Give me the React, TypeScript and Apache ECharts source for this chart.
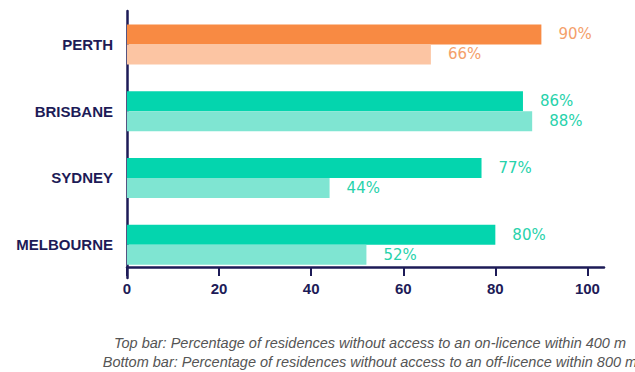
import React, { useEffect, useRef } from "react";
import * as echarts from "echarts";

// Cities, top to bottom
const cities = ["PERTH", "BRISBANE", "SYDNEY", "MELBOURNE"];
// Top bar: % of residences without access to an on-licence within 400 m
const onLicence400 = [90, 86, 77, 80];
// Bottom bar: % of residences without access to an off-licence within 800 m
const offLicence800 = [66, 88, 44, 52];
// Value-axis tick labels
const xTicks = [0, 20, 40, 60, 80, 100];

const captionLines = [
  "Top bar: Percentage of residences without access to an on-licence within 400 m",
  "Bottom bar: Percentage of residences without access to an off-licence within 800 m",
];

const accentCity = "PERTH";
const NAVY = "#1d1b57";
const palette = {
  accent: { top: "#f88a43", bottom: "#fcc5a3", label: "#f4a06a" },
  base: { top: "#04d5ae", bottom: "#7fe5d2", label: "#27d2ab" },
};

const tone = (idx: number) =>
  cities[idx] === accentCity ? palette.accent : palette.base;

const barItems = (values: number[], which: "top" | "bottom") =>
  values.map((v, i) => ({
    value: v,
    itemStyle: { color: tone(i)[which] },
    label: { color: tone(i).label },
  }));

export default function App() {
  const ref = useRef<HTMLDivElement>(null);

  useEffect(() => {
    document.body.style.margin = "0";
    if (!ref.current) return;
    const chart = echarts.init(ref.current, undefined, { renderer: "svg" });

    const valueLabel = {
      show: true,
      position: "right" as const,
      distance: 17,
      fontFamily: "DejaVu Sans",
      fontSize: 15,
      formatter: (p: any) => `${p.value}%`,
    };

    chart.setOption({
      animation: false,
      backgroundColor: "#ffffff",
      grid: { left: 127, top: 11, height: 267, right: 31 },
      xAxis: {
        type: "value",
        min: 0,
        max: 103.6,
        interval: 20,
        offset: -11,
        axisLine: { show: true, lineStyle: { color: NAVY, width: 2.5 } },
        axisTick: {
          show: true,
          customValues: xTicks,
          length: 9,
          lineStyle: { color: NAVY, width: 2 },
        },
        axisLabel: {
          customValues: xTicks,
          margin: 14,
          color: NAVY,
          fontFamily: "Liberation Sans",
          fontWeight: "bold",
          fontSize: 15,
        },
        splitLine: { show: false },
      },
      yAxis: {
        type: "category",
        data: cities,
        inverse: true,
        axisLine: { show: true, lineStyle: { color: NAVY, width: 2.5 } },
        axisTick: { show: false },
        axisLabel: {
          margin: 14,
          color: NAVY,
          fontFamily: "Liberation Sans",
          fontWeight: "bold",
          fontSize: 15,
        },
      },
      series: [
        {
          name: "On-licence within 400 m",
          type: "bar",
          data: barItems(onLicence400, "top"),
          barWidth: 20,
          barGap: "0%",
          label: valueLabel,
        },
        {
          name: "Off-licence within 800 m",
          type: "bar",
          data: barItems(offLicence800, "bottom"),
          barWidth: 20,
          barGap: "0%",
          label: valueLabel,
        },
      ],
      graphic: captionLines.map((line, i) => ({
        type: "text",
        x: 370,
        y: 343 + i * 19,
        style: {
          text: line,
          align: "center",
          verticalAlign: "middle",
          fontFamily: "Liberation Sans",
          fontStyle: "italic",
          fontSize: 14.5,
          fill: "#555555",
        },
      })),
    });

    return () => chart.dispose();
  }, []);

  return <div ref={ref} style={{ width: 635, height: 372 }} />;
}
